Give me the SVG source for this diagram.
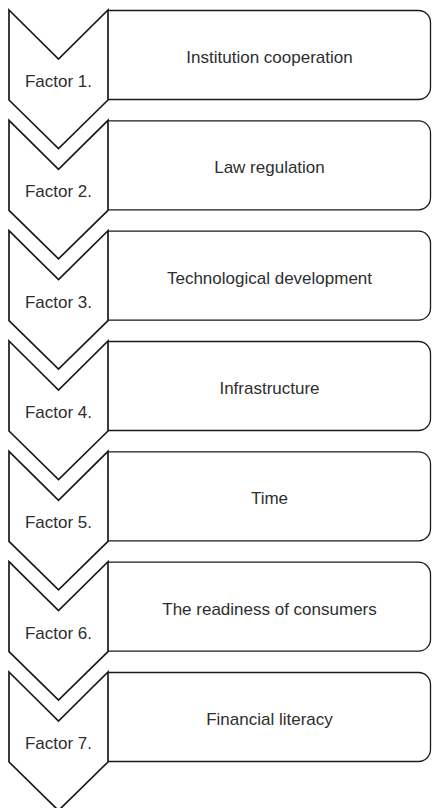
<svg xmlns="http://www.w3.org/2000/svg" width="432" height="808" viewBox="0 0 432 808">
<style>
.bg{fill:#ffffff}
.chev{fill:#ffffff;stroke:#1a1a1a;stroke-width:1.7;stroke-linejoin:miter}
.box{fill:#ffffff;stroke:#1a1a1a;stroke-width:1.3}
.lbl{font-family:"Liberation Sans",Arial,sans-serif;font-size:17px;fill:#2e2e2e;text-anchor:middle}
</style>
<defs>
<path id="chevShape" d="M9,0 L58.5,49 L108,0 L108,90 L58.5,138.5 L9,90 Z"/>
<path id="boxShape" d="M108,0.5 L418.5,0.5 A12,12 0 0 1 430.5,12.5 L430.5,77.5 A12,12 0 0 1 418.5,89.5 L108,89.5"/>
</defs>
<rect class="bg" x="0" y="0" width="432" height="808"/>
<g id="connectors"></g>
<g id="factor1" transform="translate(0,10)">
<use href="#boxShape" class="box"/><use href="#chevShape" class="chev"/>
<text class="lbl" x="58.5" y="77">Factor 1.</text>
<text class="lbl" x="269.5" y="53">Institution cooperation</text>
</g>
<g id="factor2" transform="translate(0,120.33)">
<use href="#boxShape" class="box"/><use href="#chevShape" class="chev"/>
<text class="lbl" x="58.5" y="77">Factor 2.</text>
<text class="lbl" x="269.5" y="53">Law regulation</text>
</g>
<g id="factor3" transform="translate(0,230.67)">
<use href="#boxShape" class="box"/><use href="#chevShape" class="chev"/>
<text class="lbl" x="58.5" y="77">Factor 3.</text>
<text class="lbl" x="269.5" y="53">Technological development</text>
</g>
<g id="factor4" transform="translate(0,341)">
<use href="#boxShape" class="box"/><use href="#chevShape" class="chev"/>
<text class="lbl" x="58.5" y="77">Factor 4.</text>
<text class="lbl" x="269.5" y="53">Infrastructure</text>
</g>
<g id="factor5" transform="translate(0,451.33)">
<use href="#boxShape" class="box"/><use href="#chevShape" class="chev"/>
<text class="lbl" x="58.5" y="77">Factor 5.</text>
<text class="lbl" x="269.5" y="53">Time</text>
</g>
<g id="factor6" transform="translate(0,561.67)">
<use href="#boxShape" class="box"/><use href="#chevShape" class="chev"/>
<text class="lbl" x="58.5" y="77">Factor 6.</text>
<text class="lbl" x="269.5" y="53">The readiness of consumers</text>
</g>
<g id="factor7" transform="translate(0,672)">
<use href="#boxShape" class="box"/><use href="#chevShape" class="chev"/>
<text class="lbl" x="58.5" y="77">Factor 7.</text>
<text class="lbl" x="269.5" y="53">Financial literacy</text>
</g>
</svg>
